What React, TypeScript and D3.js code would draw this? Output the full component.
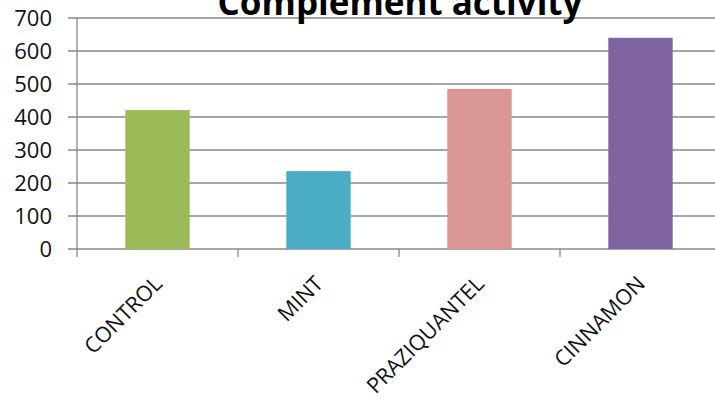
import React from "react";
import * as d3 from "d3";

const categories = ["CONTROL", "MINT", "PRAZIQUANTEL", "CINNAMON"];
const values = [421, 236, 485, 640];
const colors = ["#9BBB59", "#4BACC6", "#D99694", "#8064A2"];
const yTicks = [0, 100, 200, 300, 400, 500, 600, 700];
const title = "Complement activity";

export default function App() {
  const W = 715, H = 410;
  const x0 = 77, x1 = 721, yTop = 18, yBot = 249;
  const x = d3.scaleBand<string>().domain(categories).range([x0, x1]).paddingInner(0.6).paddingOuter(0.3);
  const xb = d3.scaleBand<string>().domain(categories).range([x0, x1]);
  const y = d3.scaleLinear().domain([0, 700]).range([yBot, yTop]);
  const font = "'Open Sans', sans-serif";
  const grid = "#898989";
  return (
    <svg width={W} height={H} style={{ position: "absolute", left: 0, top: 0, background: "#fff" }} fontFamily={font}>
      <rect width={W} height={H} fill="#fff" />
      {yTicks.map((t) => (
        <g key={t}>
          <line x1={68} x2={W} y1={y(t)} y2={y(t)} stroke={grid} strokeWidth={1.3} />
          <text x={52} y={y(t)} dy="0.36em" textAnchor="end" fontSize={22} fill="#111">{t}</text>
        </g>
      ))}
      <line x1={x0} x2={x0} y1={yTop} y2={yBot + 8} stroke={grid} strokeWidth={1.3} />
      {categories.map((c, i) => (
        <rect key={c} x={x(c)!} width={x.bandwidth()} y={y(values[i])} height={yBot - y(values[i])} fill={colors[i]} />
      ))}
      {categories.map((c) => (
        <line key={c} x1={xb(c)! + xb.bandwidth()} x2={xb(c)! + xb.bandwidth()} y1={yBot} y2={yBot + 8} stroke={grid} strokeWidth={1.3} />
      ))}
      {categories.map((c) => {
        const cx = xb(c)! + xb.bandwidth() / 2 + 6;
        const cy = yBot + 36;
        return (
          <text key={c} x={cx} y={cy} textAnchor="end" fontSize={21.5} fill="#111" transform={`rotate(-45 ${cx} ${cy})`}>{c}</text>
        );
      })}
      <text x={400} y={15} textAnchor="middle" fontSize={35} fontWeight="bold" fill="#000">{title}</text>
    </svg>
  );
}
